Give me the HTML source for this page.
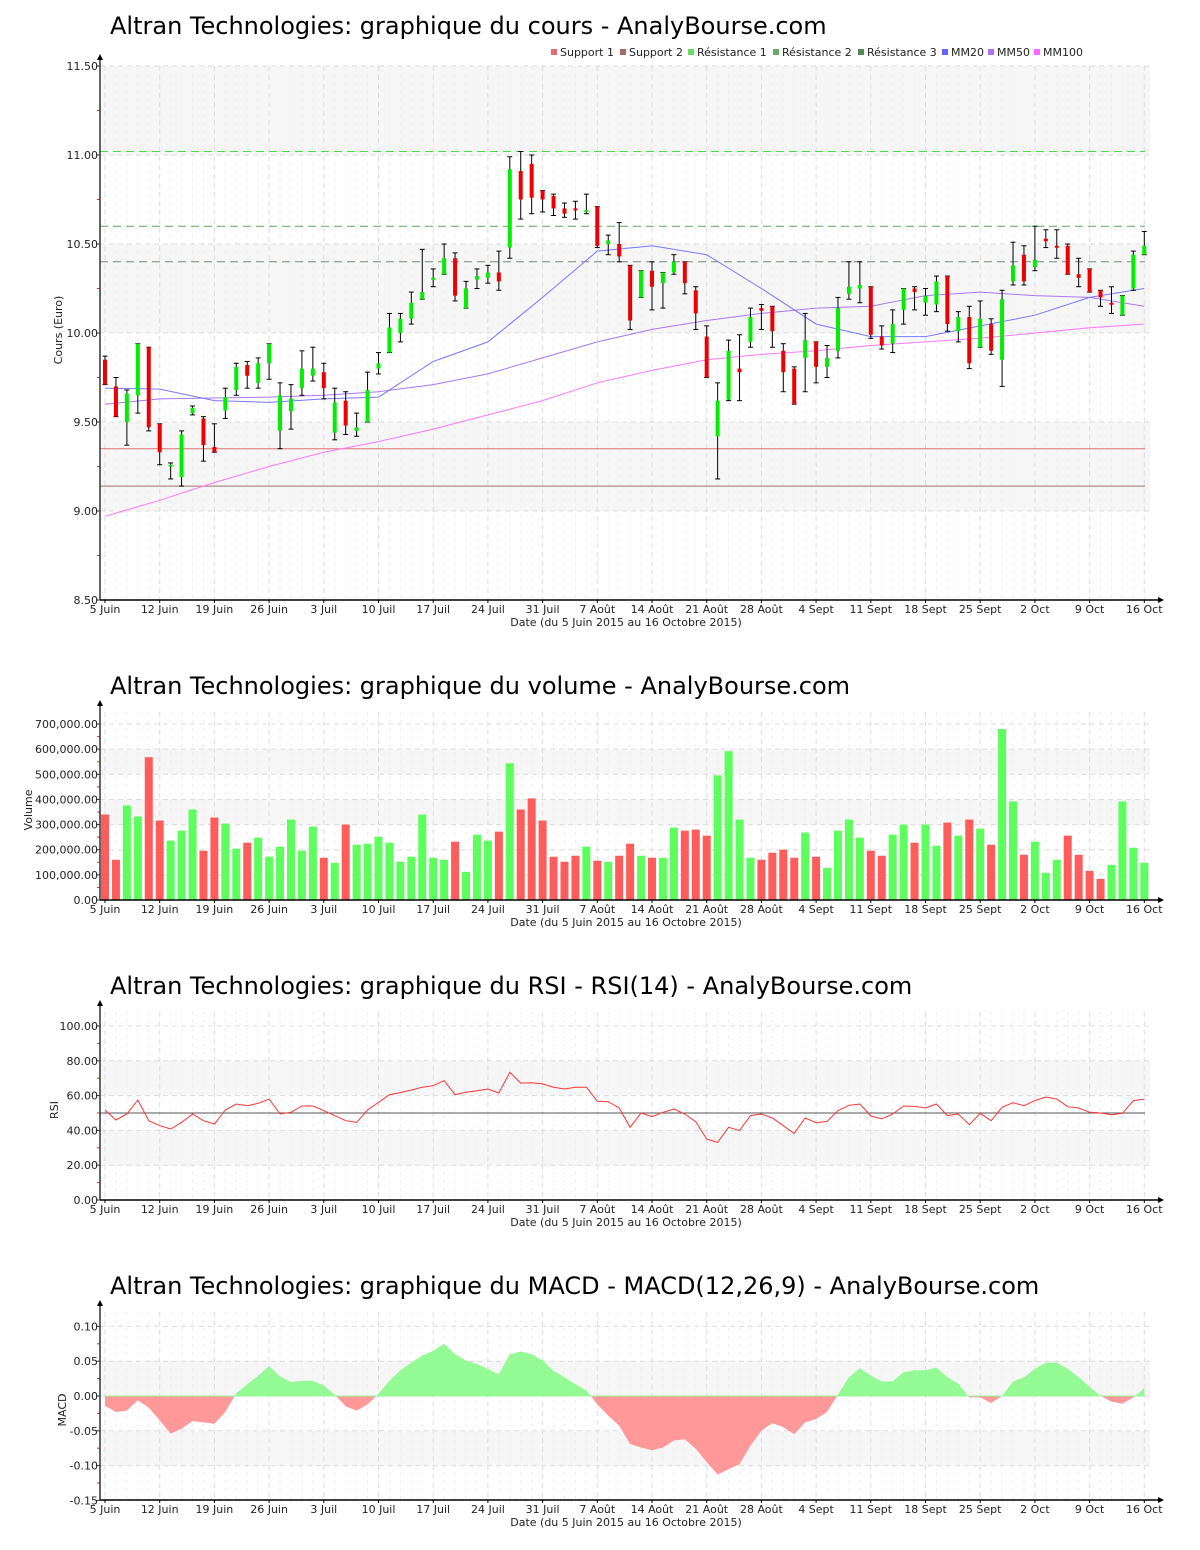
<!DOCTYPE html>
<html><head><meta charset="utf-8"><style>
html,body{margin:0;padding:0;background:#fff;}
svg{display:block;font-family:"DejaVu Sans","Liberation Sans",sans-serif;}
</style></head><body>
<svg id="c" xmlns="http://www.w3.org/2000/svg" width="1200" height="1550" viewBox="0 0 1200 1550"></svg>
<script>
const xLabels=["5 Juin","12 Juin","19 Juin","26 Juin","3 Juil","10 Juil","17 Juil","24 Juil","31 Juil","7 Août","14 Août","21 Août","28 Août","4 Sept","11 Sept","18 Sept","25 Sept","2 Oct","9 Oct","16 Oct"];
const openP=[9.85,9.70,9.50,9.65,9.92,9.49,9.25,9.19,9.55,9.52,9.36,9.565,9.68,9.82,9.72,9.83,9.45,9.56,9.69,9.76,9.78,9.44,9.62,9.45,9.50,9.80,9.89,10.00,10.08,10.19,10.30,10.33,10.42,10.14,10.30,10.31,10.34,10.48,10.91,10.95,10.80,10.77,10.70,10.70,10.68,10.71,10.50,10.50,10.38,10.20,10.35,10.28,10.34,10.40,10.24,9.98,9.42,9.625,9.80,9.95,10.14,10.15,9.90,9.80,9.86,9.95,9.81,9.90,10.22,10.25,10.26,9.98,9.94,10.13,10.25,10.17,10.16,10.32,10.01,10.09,9.92,10.05,9.85,10.29,10.44,10.37,10.53,10.49,10.49,10.33,10.36,10.24,10.17,10.10,10.25,10.44];
const highP=[9.87,9.75,9.68,9.94,9.92,9.49,9.27,9.45,9.59,9.53,9.49,9.69,9.83,9.84,9.86,9.94,9.72,9.71,9.90,9.92,9.83,9.69,9.67,9.55,9.78,9.89,10.11,10.11,10.23,10.47,10.36,10.50,10.45,10.29,10.36,10.38,10.46,10.99,11.02,11.00,10.80,10.78,10.73,10.74,10.78,10.71,10.55,10.62,10.38,10.35,10.40,10.34,10.44,10.40,10.26,10.04,9.72,9.96,9.99,10.14,10.16,10.15,9.94,9.81,10.11,9.95,9.93,10.20,10.40,10.40,10.26,10.04,10.13,10.25,10.26,10.25,10.32,10.32,10.12,10.15,10.18,10.08,10.24,10.51,10.49,10.60,10.58,10.58,10.50,10.42,10.36,10.24,10.26,10.21,10.46,10.57];
const lowP=[9.71,9.53,9.37,9.55,9.45,9.26,9.18,9.14,9.54,9.28,9.33,9.52,9.65,9.69,9.69,9.74,9.35,9.46,9.65,9.73,9.63,9.40,9.43,9.42,9.50,9.77,9.89,9.95,10.05,10.19,10.26,10.33,10.18,10.14,10.25,10.28,10.24,10.42,10.64,10.67,10.68,10.66,10.65,10.64,10.67,10.48,10.44,10.40,10.02,10.20,10.13,10.14,10.33,10.22,10.02,9.75,9.18,9.62,9.62,9.92,10.02,9.92,9.67,9.60,9.67,9.72,9.75,9.86,10.19,10.17,9.97,9.91,9.89,10.05,10.13,10.10,10.12,10.01,9.95,9.80,9.92,9.88,9.70,10.27,10.27,10.35,10.48,10.42,10.33,10.26,10.23,10.15,10.11,10.10,10.24,10.44];
const closeP=[9.71,9.53,9.66,9.94,9.47,9.33,9.26,9.43,9.58,9.37,9.33,9.64,9.81,9.76,9.83,9.94,9.65,9.63,9.80,9.80,9.69,9.61,9.48,9.47,9.68,9.83,10.03,10.08,10.17,10.23,10.31,10.42,10.21,10.25,10.32,10.34,10.29,10.92,10.75,10.76,10.75,10.70,10.67,10.69,10.69,10.49,10.52,10.43,10.07,10.35,10.26,10.34,10.40,10.28,10.11,9.75,9.62,9.90,9.78,10.09,10.125,10.01,9.78,9.60,9.96,9.81,9.86,10.14,10.26,10.27,9.99,9.93,10.05,10.25,10.23,10.21,10.29,10.05,10.09,9.83,10.08,9.90,10.19,10.38,10.29,10.41,10.515,10.48,10.33,10.31,10.23,10.20,10.16,10.21,10.44,10.49];
const maIdx=[0,5,10,15,20,25,30,35,40,45,50,55,60,65,70,75,80,85,90,95];
const mm20=[9.69,9.685,9.62,9.61,9.63,9.64,9.84,9.95,10.20,10.46,10.49,10.44,10.25,10.05,9.98,9.98,10.04,10.10,10.20,10.25];
const mm50=[9.60,9.63,9.635,9.64,9.65,9.67,9.71,9.77,9.86,9.95,10.02,10.07,10.11,10.14,10.15,10.21,10.23,10.21,10.20,10.15];
const mm100=[8.97,9.06,9.16,9.25,9.33,9.39,9.46,9.54,9.62,9.72,9.79,9.85,9.88,9.90,9.93,9.95,9.97,10.00,10.03,10.05];
const levels=[9.35,9.14,11.02,10.60,10.40];
const levelNames=["Support 1","Support 2","Résistance 1","Résistance 2","Résistance 3"];
const priceTicks=[8.5,9.0,9.5,10.0,10.5,11.0,11.5];
const volumeK=[340,160,376,332,568,316,236,276,360,196,328,304,204,228,248,172,212,320,196,292,168,148,300,220,224,252,228,152,172,340,168,160,232,112,260,236,272,544,360,404,316,172,152,176,212,156,152,176,224,176,168,168,288,276,280,256,496,592,320,168,160,188,200,168,268,172,128,276,320,248,196,176,260,300,228,300,216,308,256,320,284,220,680,392,180,232,108,160,256,180,116,84,140,392,208,148];
const volUp=[0,0,1,1,0,0,1,1,1,0,0,1,1,0,1,1,1,1,1,1,0,1,0,1,1,1,1,1,1,1,1,1,0,1,1,1,0,1,0,0,0,0,0,0,1,0,1,0,0,1,0,1,1,0,0,0,1,1,1,1,0,0,0,0,1,0,1,1,1,1,0,0,1,1,0,1,1,0,1,0,1,0,1,1,0,1,1,1,0,0,0,0,1,1,1,1];
const volTicks=[0,100,200,300,400,500,600,700];
const rsi=[51.7,46,49.4,57.5,45.6,42.7,40.8,44.6,49.4,45.6,43.7,51.7,55.2,54.2,55.6,58,49.4,50.4,54,54,51.3,48.5,45.6,44.6,51.7,56.1,60.5,61.7,63.2,64.8,65.7,68.6,60.5,61.9,62.8,63.8,61.5,73.4,67.2,67.4,66.7,64.8,63.8,64.8,64.8,56.7,56.5,52.9,41.8,50,47.9,50.4,52.3,49.4,45,35,33.1,41.8,39.9,48.5,49.4,47.1,42.7,38.3,47.1,44.4,45.2,51.3,54.4,55.2,48.3,46.6,49.4,54,53.8,52.9,55.2,48.5,49.4,43.3,49.8,45.6,53.3,55.9,54.2,57.1,59.2,58,53.6,52.9,50.4,50,49,49.8,57.1,58];
const rsiTicks=[0,20,40,60,80,100];
const macd=[-0.014,-0.023,-0.021,-0.006,-0.017,-0.035,-0.054,-0.047,-0.036,-0.038,-0.040,-0.023,0.004,0.017,0.029,0.043,0.028,0.020,0.022,0.022,0.015,0.002,-0.015,-0.021,-0.012,0.003,0.022,0.037,0.048,0.058,0.065,0.075,0.060,0.051,0.046,0.039,0.031,0.060,0.064,0.060,0.051,0.036,0.027,0.017,0.008,-0.012,-0.028,-0.043,-0.069,-0.074,-0.078,-0.074,-0.064,-0.062,-0.076,-0.095,-0.113,-0.105,-0.098,-0.071,-0.050,-0.039,-0.045,-0.055,-0.038,-0.033,-0.023,0.002,0.027,0.040,0.029,0.021,0.021,0.034,0.037,0.037,0.041,0.027,0.018,-0.002,-0.002,-0.010,0.000,0.021,0.027,0.039,0.048,0.048,0.039,0.027,0.013,0.000,-0.008,-0.011,-0.002,0.011];
const macdTicks=[-0.15,-0.10,-0.05,0.00,0.05,0.10];

const NS="http://www.w3.org/2000/svg";
const svg=document.getElementById('c');
function mk(tag,attrs,parent){const e=document.createElementNS(NS,tag);for(const k in attrs)e.setAttribute(k,attrs[k]);(parent||svg).appendChild(e);return e;}
const X=i=>105+i*10.94;
const L=100,R=1150;

function frame(cfg){
  const g=mk('g',{});
  
  
  const t=mk('text',{x:110,y:cfg.titleY,'font-size':24,fill:'#000'},g);t.textContent=cfg.title;
  
  
  cfg.bands.forEach(b=>{const r=mk('rect',{x:L+1,y:cfg.Y(b[1]),width:R-L-1,height:cfg.Y(b[0])-cfg.Y(b[1]),fill:'#f6f6f6'},g);
    
    });
  for(let i=0;i<96;i++){const ln=mk('line',{x1:X(i),x2:X(i),y1:cfg.top,y2:cfg.bot,stroke:(i%5==0)?'#dcdcdc':'#eeeeee','stroke-dasharray':(i%5==0)?'5,4':'3,5','stroke-width':1},g);
    
    }
  cfg.ticks.forEach(v=>{const y=cfg.Y(v);
    const ln=mk('line',{x1:L,x2:R,y1:y,y2:y,stroke:'#dcdcdc','stroke-dasharray':'5,4'},g);
    
    
    const tk=mk('line',{x1:L-4,x2:L,y1:y,y2:y,stroke:'#333'},g);
    
    
    const tx=mk('text',{x:L-2,y:y+4,'font-size':11,'text-anchor':'end',fill:'#222'},g);tx.textContent=cfg.fmt(v);
    
    });
  for(let k=0;k<cfg.ticks.length-1;k++){const y=(cfg.Y(cfg.ticks[k])+cfg.Y(cfg.ticks[k+1]))/2;
    const tk=mk('line',{x1:L-3,x2:L,y1:y,y2:y,stroke:'#e03030'},g);
    
    }
  cfg.g=g;
}
function axes(cfg){
  const ya=mk('line',{x1:L,x2:L,y1:cfg.top-8,y2:cfg.bot,stroke:'#333','stroke-width':1.5});
  
  
  const ar=mk('path',{d:`M${L-3},${cfg.top-6} L${L},${cfg.top-12} L${L+3},${cfg.top-6}Z`,fill:'#000'});
  
  
  const xa=mk('line',{x1:L,x2:1160,y1:cfg.bot,y2:cfg.bot,stroke:'#000','stroke-width':1.5});
  
  
  const ax=mk('path',{d:`M1158,${cfg.bot-3} L1164,${cfg.bot} L1158,${cfg.bot+3}Z`,fill:'#000'});
  
  
  xLabels.forEach((s,k)=>{const x=X(k*5);
    const tk=mk('line',{x1:x,x2:x,y1:cfg.bot,y2:cfg.bot+3,stroke:'#000'});
    
    
    const t=mk('text',{x:x,y:cfg.bot+13,'font-size':11,'text-anchor':'middle',fill:'#222'});t.textContent=s;
    
    });
  const dt=mk('text',{x:626,y:cfg.bot+26,'font-size':11,'text-anchor':'middle',fill:'#222'});dt.textContent='Date (du 5 Juin 2015 au 16 Octobre 2015)';
  
  
  const yt=mk('text',{x:0,y:0,'font-size':11,'text-anchor':'middle',fill:'#222',transform:`translate(${cfg.ylx},${cfg.yly}) rotate(-90)`});yt.textContent=cfg.ylabel;
  
  
}

// ---------- Panel 1: price ----------
const P1={name:'price',title:'Altran Technologies: graphique du cours - AnalyBourse.com',titleY:34,top:66,bot:600,
  Y:v=>600-(v-8.5)*178,ticks:priceTicks,fmt:v=>v.toFixed(2),bands:[[9.0,9.5],[10.0,10.5],[11.0,11.5]],ylabel:'Cours (Euro)',ylx:62,yly:330};
frame(P1);
const levelColors=['#e07070','#a07070','#44dd44','#55aa55','#778877'];
levels.forEach((v,k)=>{const ln=mk('line',{x1:L,x2:1145,y1:P1.Y(v),y2:P1.Y(v),stroke:levelColors[k],'stroke-width':1,'stroke-dasharray':k>=2?'8,5':'none'});
  
  });
function maLine(arr,color,name){const d=arr.map((v,k)=>(k?'L':'M')+X(maIdx[k]).toFixed(1)+','+P1.Y(v).toFixed(1)).join(' ');
  const p=mk('path',{d:d,fill:'none',stroke:color,'stroke-width':1});
  
  }
maLine(mm100,'#ff77ff','mm100-line');maLine(mm50,'#a878f0','mm50-line');maLine(mm20,'#7777ff','mm20-line');
for(let i=0;i<96;i++){const x=X(i);const up=closeP[i]>=openP[i];
  const g=mk('g',{});
  
  
  mk('line',{x1:x,x2:x,y1:P1.Y(highP[i]),y2:P1.Y(lowP[i]),stroke:'#000'},g);
  mk('line',{x1:x-2.5,x2:x+2.5,y1:P1.Y(highP[i]),y2:P1.Y(highP[i]),stroke:'#000'},g);
  mk('line',{x1:x-2.5,x2:x+2.5,y1:P1.Y(lowP[i]),y2:P1.Y(lowP[i]),stroke:'#000'},g);
  const yt=P1.Y(Math.max(openP[i],closeP[i])),yb=P1.Y(Math.min(openP[i],closeP[i]));
  mk('rect',{x:x-2,y:yt,width:4,height:Math.max(2,yb-yt),fill:up?'#00ee00':'#ee0000'},g);}
axes(P1);
const legItems=[['Support 1','#e07070',551],['Support 2','#a86868',620],['Résistance 1','#66dd66',688],['Résistance 2','#66aa66',773],['Résistance 3','#558855',858],['MM20','#6666ff',942],['MM50','#b070f0',988],['MM100','#ff66ff',1034]];
legItems.forEach(it=>{const g=mk('g',{});
  
  
  mk('rect',{x:it[2],y:49,width:6,height:6,fill:it[1]},g);
  const t=mk('text',{x:it[2]+9,y:56,'font-size':11,fill:'#222'},g);t.textContent=it[0];});

// ---------- Panel 2: volume ----------
const P2={name:'volume',title:'Altran Technologies: graphique du volume - AnalyBourse.com',titleY:694,top:712,bot:900,
  Y:v=>900-v*0.2514,ticks:volTicks,fmt:v=>(v*1000).toLocaleString('en-US')+'.00',bands:[[300,400],[500,600]],ylabel:'Volume',ylx:32,yly:810};
frame(P2);
for(let i=0;i<96;i++){const y=P2.Y(volumeK[i]);
  const r=mk('rect',{x:X(i)-4,y:y,width:8,height:900-y,fill:volUp[i]?'#5cff5c':'#ff5c5c'});
  
  }
axes(P2);

// ---------- Panel 3: RSI ----------
const P3={name:'rsi',title:'Altran Technologies: graphique du RSI - RSI(14) - AnalyBourse.com',titleY:994,top:1012,bot:1200,
  Y:v=>1200-v*1.74,ticks:rsiTicks,fmt:v=>v.toFixed(2),bands:[[20,40],[60,80]],ylabel:'RSI',ylx:58,yly:1110};
frame(P3);
{const ln=mk('line',{x1:L,x2:1145,y1:P3.Y(50),y2:P3.Y(50),stroke:'#555'});
 
 
 const p=mk('path',{d:rsi.map((v,i)=>(i?'L':'M')+X(i).toFixed(1)+','+P3.Y(v).toFixed(1)).join(' '),fill:'none',stroke:'#ff3333','stroke-width':1});
 
 }
axes(P3);

// ---------- Panel 4: MACD ----------
const P4={name:'macd',title:'Altran Technologies: graphique du MACD - MACD(12,26,9) - AnalyBourse.com',titleY:1294,top:1312,bot:1500,
  Y:v=>1396-v*696,ticks:macdTicks,fmt:v=>v.toFixed(2),bands:[[-0.10,-0.05],[0,0.05]],ylabel:'MACD',ylx:66,yly:1410};
frame(P4);
{const y0=P4.Y(0);
 const defs=mk('defs',{});
 const c1=mk('clipPath',{id:'above'},defs);mk('rect',{x:0,y:0,width:1200,height:y0},c1);
 const c2=mk('clipPath',{id:'below'},defs);mk('rect',{x:0,y:y0,width:1200,height:1550-y0},c2);
 const d='M'+X(0)+','+y0+' '+macd.map((v,i)=>'L'+X(i).toFixed(1)+','+P4.Y(v).toFixed(1)).join(' ')+' L'+X(95)+','+y0+'Z';
 const a=mk('path',{d:d,fill:'#94fa94','clip-path':'url(#above)'});
 
 
 const b=mk('path',{d:d,fill:'#ff9999','clip-path':'url(#below)'});
 
 
 const z=mk('line',{x1:X(0),x2:X(95),y1:y0,y2:y0,stroke:'#94fa94'});
 
 }
axes(P4);
</script>
</body></html>
